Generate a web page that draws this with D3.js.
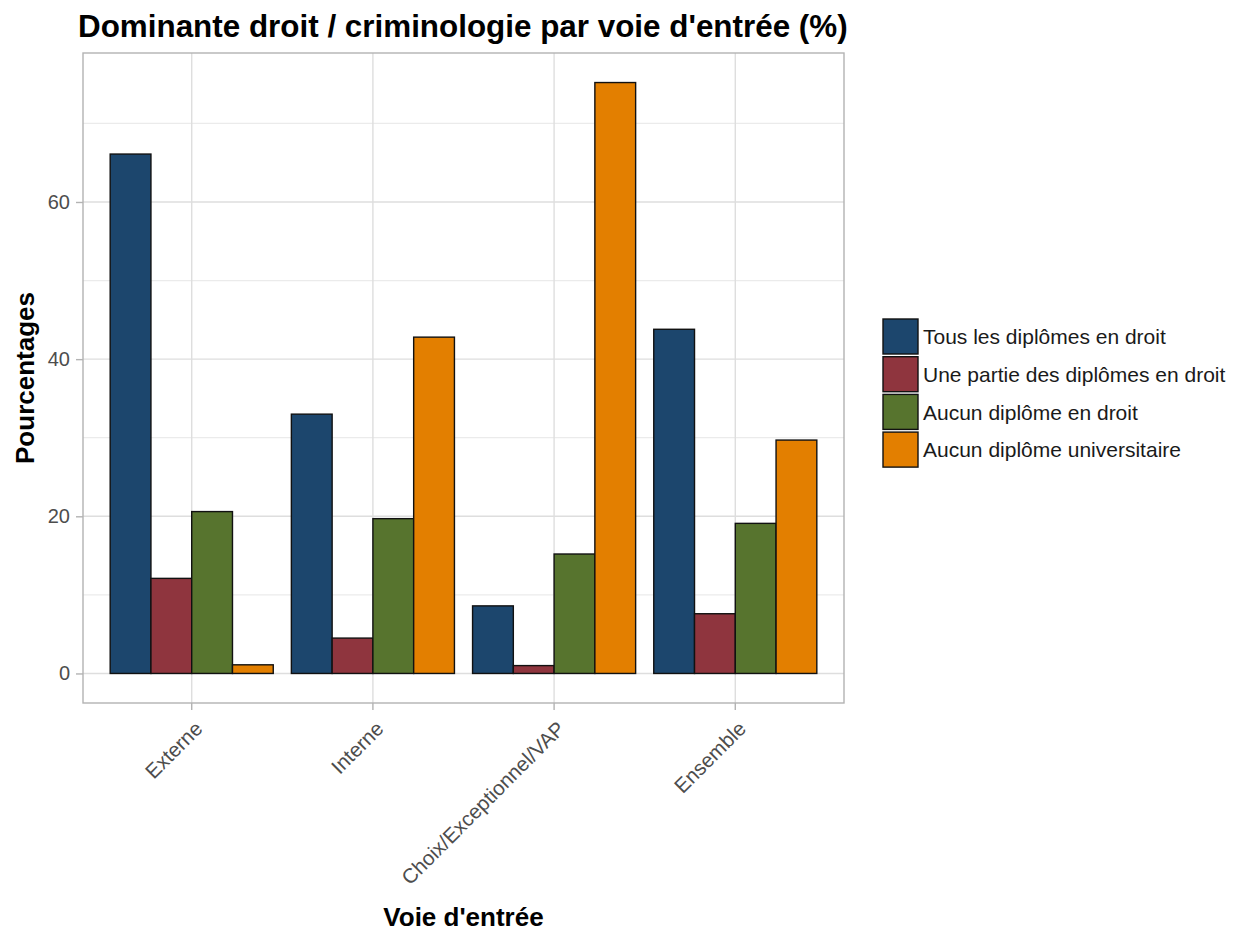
<!DOCTYPE html>
<html><head><meta charset="utf-8">
<script src="https://cdn.jsdelivr.net/npm/d3@7"></script>
<style>body{margin:0;background:#fff;} svg{display:block;font-family:"Liberation Sans",Arial,sans-serif;}</style>
</head><body>
<svg id="chart" width="1242" height="935"></svg>
<script>
const categories = ["Externe", "Interne", "Choix/Exceptionnel/VAP", "Ensemble"];
const seriesNames = ["Tous les diplômes en droit", "Une partie des diplômes en droit", "Aucun diplôme en droit", "Aucun diplôme universitaire"];
const seriesColors = ["#1c466d", "#8f353e", "#57742e", "#e37f00"];
const tousDroit = [66.1, 33.0, 8.6, 43.8];
const partieDroit = [12.1, 4.5, 1.0, 7.6];
const aucunDroit = [20.6, 19.7, 15.2, 19.1];
const aucunUniv = [1.1, 42.8, 75.2, 29.7];
const yTicks = [0, 20, 40, 60];
const yMinor = [10, 30, 50, 70];

const seriesValues = [tousDroit, partieDroit, aucunDroit, aucunUniv];
const svg = d3.select("#chart");
const P = {left: 83, right: 844, top: 53, bottom: 703};

const maxV = d3.max(seriesValues.flat());
const pad = maxV * 0.05;
const y = d3.scaleLinear().domain([-pad, maxV + pad]).range([P.bottom, P.top]);
const n = categories.length;
const xc = d3.scaleLinear().domain([1 - 0.6, n + 0.6]).range([P.left, P.right]);
const x = d3.scaleBand().domain(categories).range([xc(0.5), xc(n + 0.5)]).paddingInner(0.1).paddingOuter(0.05);
const xs = d3.scaleBand().domain(seriesNames).range([0, x.bandwidth()]);

// grid
const g = svg.append("g");
g.selectAll("line.minor").data(yMinor).join("line")
  .attr("x1", P.left).attr("x2", P.right).attr("y1", d => y(d)).attr("y2", d => y(d))
  .attr("stroke", "#ebebeb").attr("stroke-width", 1.2);
g.selectAll("line.major").data(yTicks).join("line")
  .attr("x1", P.left).attr("x2", P.right).attr("y1", d => y(d)).attr("y2", d => y(d))
  .attr("stroke", "#dedede").attr("stroke-width", 1.4);
g.selectAll("line.vx").data(categories).join("line")
  .attr("x1", d => x(d) + x.bandwidth() / 2).attr("x2", d => x(d) + x.bandwidth() / 2)
  .attr("y1", P.top).attr("y2", P.bottom)
  .attr("stroke", "#dedede").attr("stroke-width", 1.4);

// bars
categories.forEach((c, ci) => {
  seriesNames.forEach((s, si) => {
    const v = seriesValues[si][ci];
    svg.append("rect")
      .attr("x", x(c) + xs(s)).attr("width", xs.bandwidth())
      .attr("y", y(v)).attr("height", y(0) - y(v))
      .attr("fill", seriesColors[si]).attr("stroke", "#111").attr("stroke-width", 1.4);
  });
});

// panel border
svg.append("rect").attr("x", P.left).attr("y", P.top)
  .attr("width", P.right - P.left).attr("height", P.bottom - P.top)
  .attr("fill", "none").attr("stroke", "#b3b3b3").attr("stroke-width", 1.4);

// y axis
const yAxis = d3.axisLeft(y).tickValues(yTicks).tickSize(7).tickPadding(6);
const ya = svg.append("g").attr("transform", `translate(${P.left},0)`).call(yAxis);
ya.select(".domain").remove();
ya.selectAll(".tick line").attr("stroke", "#b3b3b3").attr("stroke-width", 1.4);
ya.selectAll(".tick text").attr("fill", "#4d4d4d").style("font-size", "20px").style("font-family", "Liberation Sans, Arial, sans-serif");

// x axis
const xAxis = d3.axisBottom(x).tickSize(7).tickPadding(0);
const xa = svg.append("g").attr("transform", `translate(0,${P.bottom})`).call(xAxis);
xa.select(".domain").remove();
xa.selectAll(".tick line").attr("stroke", "#b3b3b3").attr("stroke-width", 1.4);
xa.selectAll(".tick text").attr("fill", "#4d4d4d").style("font-size", "20.5px")
  .style("font-family", "Liberation Sans, Arial, sans-serif")
  .attr("text-anchor", "end").attr("x", 0).attr("y", 0).attr("dy", "0")
  .attr("transform", "translate(12,27) rotate(-45)");

// titles
svg.append("text").attr("x", 78).attr("y", 37).text("Dominante droit / criminologie par voie d'entrée (%)")
  .attr("font-weight", "bold").attr("font-size", 31.4).attr("fill", "#000");
svg.append("text").attr("transform", `translate(34,${(P.top + P.bottom) / 2}) rotate(-90)`)
  .attr("text-anchor", "middle").text("Pourcentages").attr("font-weight", "bold").attr("font-size", 26);
svg.append("text").attr("x", (P.left + P.right) / 2).attr("y", 926).attr("text-anchor", "middle")
  .text("Voie d'entrée").attr("font-weight", "bold").attr("font-size", 26);

// legend
const lg = svg.append("g").attr("transform", "translate(883,319)");
seriesNames.forEach((s, i) => {
  lg.append("rect").attr("x", 0).attr("y", i * 37.7).attr("width", 35).attr("height", 35)
    .attr("fill", seriesColors[i]).attr("stroke", "#111").attr("stroke-width", 1.4);
  lg.append("text").attr("x", 40).attr("y", i * 37.7 + 18).attr("dy", "0.35em")
    .text(s).attr("font-size", 21).attr("fill", "#1a1a1a");
});
</script>
</body></html>
